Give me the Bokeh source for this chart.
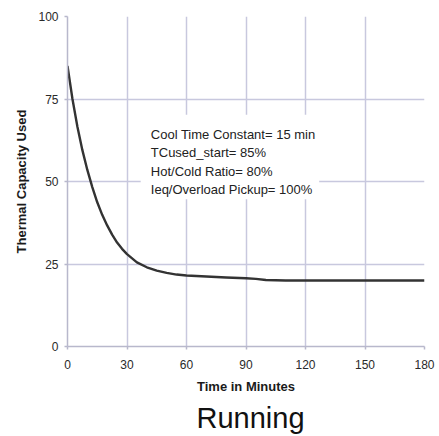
from bokeh.plotting import figure
from bokeh.models import Range1d, FixedTicker, Title, Label, BoxAnnotation
from bokeh.embed import file_html
from bokeh.resources import INLINE

# data
minutes = [0, 2.5, 5, 7.5, 10, 12.5, 15, 17.5, 20, 22.5, 25, 27.5, 30, 35, 40, 45, 50, 55,
           60, 70, 80, 90, 95, 100, 110, 120, 150, 180]
tc_used = [85, 75, 66.6, 59.5, 53.5, 48.3, 43.7, 39.9, 36.7, 33.9, 31.5, 29.6, 28.0, 25.5, 24.0, 23.0, 22.3, 21.8,
           21.5, 21.2, 20.9, 20.7, 20.5, 20.15, 20.0, 20.0, 20.0, 20.0]
x_ticks = [0, 30, 60, 90, 120, 150, 180]
y_ticks = [0, 25, 50, 75, 100]
notes = ["Cool Time Constant= 15 min", "TCused_start= 85%", "Hot/Cold Ratio= 80%", "Ieq/Overload Pickup= 100%"]

FONT = "Liberation Sans"
GRID = "#c8c8de"

p = figure(width=439, height=436, output_backend="svg", toolbar_location=None,
           x_range=Range1d(0, 180), y_range=Range1d(0, 100),
           min_border_left=67, min_border_right=15, min_border_top=16, min_border_bottom=10)
p.outline_line_color = None
p.background_fill_color = "white"

for ax in (p.xaxis[0], p.yaxis[0]):
    ax.axis_line_color = "#b8b8cc"
    ax.axis_line_width = 1.5
    ax.major_tick_line_color = "#b8b8cc"
    ax.major_tick_line_width = 1.5
    ax.major_tick_in = 0
    ax.major_tick_out = 3
    ax.minor_tick_line_color = None
    ax.major_label_text_font = FONT
    ax.major_label_text_font_size = "12px"
    ax.major_label_text_color = "#2a2a2a"
    ax.axis_label_text_font = FONT
    ax.axis_label_text_font_size = "13px"
    ax.axis_label_text_font_style = "bold"
    ax.axis_label_text_color = "#1a1a1a"

p.xaxis[0].ticker = FixedTicker(ticks=x_ticks)
p.yaxis[0].ticker = FixedTicker(ticks=y_ticks)
p.xaxis[0].axis_label = "Time in Minutes"
p.yaxis[0].axis_label = "Thermal Capacity Used"
p.xaxis[0].major_label_standoff = 10
p.xaxis[0].axis_label_standoff = 7
p.yaxis[0].major_label_standoff = 6
p.yaxis[0].axis_label_standoff = 6

p.xgrid.grid_line_color = GRID
p.ygrid.grid_line_color = GRID
p.xgrid.grid_line_width = 1.5
p.ygrid.grid_line_width = 1.5

p.line(minutes, tc_used, line_color="#333333", line_width=2.4, line_join="round")

# white box behind the notes
p.add_layout(BoxAnnotation(left=36.9, right=126.9, bottom=44.6, top=70.2,
                           fill_color="white", fill_alpha=1, line_color=None))
for i, t in enumerate(notes):
    p.add_layout(Label(x=42, y=64.2, y_offset=-18.3 * i, text=t,
                       text_font=FONT, text_font_size="13px", text_color="#222222",
                       text_baseline="alphabetic", text_align="left"))

p.add_layout(Title(text="Running", align="left", text_font=FONT,
                   text_font_size="29px", text_font_style="normal",
                   text_color="#111111", standoff=6, offset=129), "below")

open("out.html", "w").write(file_html(p, INLINE))
